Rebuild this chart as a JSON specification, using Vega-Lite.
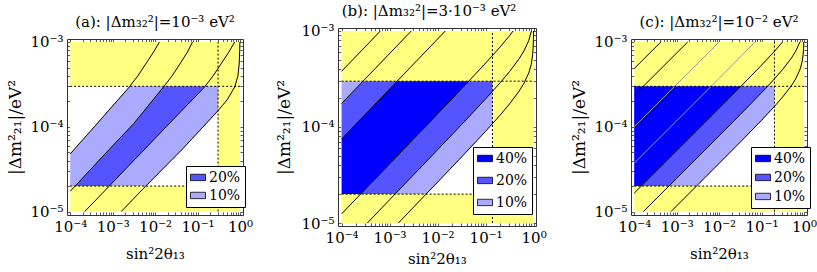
{
  "$schema": "https://vega.github.io/schema/vega-lite/v6.json",
  "background": "white",
  "padding": {"left": 6, "top": 3, "right": 0, "bottom": 0},
  "datasets": {
    "a_bands": [
      {"band": "a_l1", "level": "10%", "x": 0.0001, "y": 0.00002, "y2": 0.00004786},
      {"band": "a_l1", "level": "10%", "x": 0.0001312, "y": 0.00002, "y2": 0.00005585},
      {"band": "a_l1", "level": "10%", "x": 0.000369, "y": 0.00003499, "y2": 0.0001},
      {"band": "a_l1", "level": "10%", "x": 0.000631, "y": 0.00004677, "y2": 0.0001358},
      {"band": "a_l1", "level": "10%", "x": 0.002535, "y": 0.00009772, "y2": 0.0003},
      {"band": "a_l1", "level": "10%", "x": 0.003162, "y": 0.0001096, "y2": 0.0003},
      {"band": "a_l1", "level": "10%", "x": 0.01618, "y": 0.0003, "y2": 0.0003},
      {"band": "a_d", "level": "20%", "x": 0.0001312, "y": 0.00002, "y2": 0.00002},
      {"band": "a_d", "level": "20%", "x": 0.000631, "y": 0.00002, "y2": 0.00004677},
      {"band": "a_d", "level": "20%", "x": 0.0008318, "y": 0.00002, "y2": 0.00005408},
      {"band": "a_d", "level": "20%", "x": 0.002483, "y": 0.0000354, "y2": 0.00009661},
      {"band": "a_d", "level": "20%", "x": 0.003162, "y": 0.00004018, "y2": 0.0001096},
      {"band": "a_d", "level": "20%", "x": 0.01618, "y": 0.00009376, "y2": 0.0003},
      {"band": "a_d", "level": "20%", "x": 0.01995, "y": 0.0001047, "y2": 0.0003},
      {"band": "a_d", "level": "20%", "x": 0.1503, "y": 0.0003, "y2": 0.0003},
      {"band": "a_l2", "level": "10%", "x": 0.0008318, "y": 0.00002, "y2": 0.00002},
      {"band": "a_l2", "level": "10%", "x": 0.002483, "y": 0.00002, "y2": 0.0000354},
      {"band": "a_l2", "level": "10%", "x": 0.006026, "y": 0.00002, "y2": 0.0000561},
      {"band": "a_l2", "level": "10%", "x": 0.01995, "y": 0.00003664, "y2": 0.0001047},
      {"band": "a_l2", "level": "10%", "x": 0.04467, "y": 0.00005495, "y2": 0.0001592},
      {"band": "a_l2", "level": "10%", "x": 0.1503, "y": 0.0001059, "y2": 0.0003},
      {"band": "a_l2", "level": "10%", "x": 0.3041, "y": 0.0001549, "y2": 0.0003}
    ],
    "a_lines": [
      {"id": "a1", "tone": "#000000", "x": 0.0001, "y": 0.00004786},
      {"id": "a1", "tone": "#000000", "x": 0.000369, "y": 0.0001},
      {"id": "a1", "tone": "#000000", "x": 0.002483, "y": 0.0002958},
      {"id": "a1", "tone": "#000000", "x": 0.003917, "y": 0.0003981},
      {"id": "a1", "tone": "#000000", "x": 0.00618, "y": 0.0005623},
      {"id": "a1", "tone": "#000000", "x": 0.009162, "y": 0.0007586},
      {"id": "a1", "tone": "#000000", "x": 0.01265, "y": 0.001},
      {"id": "a2", "tone": "#000000", "x": 0.0001, "y": 0.00001738},
      {"id": "a2", "tone": "#000000", "x": 0.0001312, "y": 0.00002},
      {"id": "a2", "tone": "#000000", "x": 0.000631, "y": 0.00004677},
      {"id": "a2", "tone": "#000000", "x": 0.003162, "y": 0.0001096},
      {"id": "a2", "tone": "#000000", "x": 0.01585, "y": 0.0002958},
      {"id": "a2", "tone": "#000000", "x": 0.02512, "y": 0.0003981},
      {"id": "a2", "tone": "#000000", "x": 0.03945, "y": 0.0005623},
      {"id": "a2", "tone": "#000000", "x": 0.05754, "y": 0.0007586},
      {"id": "a2", "tone": "#000000", "x": 0.07586, "y": 0.001},
      {"id": "a3", "tone": "#000000", "x": 0.0002188, "y": 0.00001},
      {"id": "a3", "tone": "#000000", "x": 0.0008318, "y": 0.00002},
      {"id": "a3", "tone": "#000000", "x": 0.002483, "y": 0.0000354},
      {"id": "a3", "tone": "#000000", "x": 0.01995, "y": 0.0001047},
      {"id": "a3", "tone": "#000000", "x": 0.1472, "y": 0.0002958},
      {"id": "a3", "tone": "#000000", "x": 0.2323, "y": 0.0003981},
      {"id": "a3", "tone": "#000000", "x": 0.3664, "y": 0.0005623},
      {"id": "a3", "tone": "#000000", "x": 0.5433, "y": 0.0007586},
      {"id": "a3", "tone": "#000000", "x": 0.7499, "y": 0.001},
      {"id": "a4", "tone": "#000000", "x": 0.001585, "y": 0.00001},
      {"id": "a4", "tone": "#000000", "x": 0.006026, "y": 0.00002},
      {"id": "a4", "tone": "#000000", "x": 0.04467, "y": 0.00005495},
      {"id": "a4", "tone": "#000000", "x": 0.3041, "y": 0.0001549},
      {"id": "a4", "tone": "#000000", "x": 0.5012, "y": 0.0002089},
      {"id": "a4", "tone": "#000000", "x": 0.7534, "y": 0.0002958},
      {"id": "a4", "tone": "#000000", "x": 0.8913, "y": 0.0003981},
      {"id": "a4", "tone": "#000000", "x": 0.955, "y": 0.0005495},
      {"id": "a4", "tone": "#000000", "x": 0.984, "y": 0.0007943},
      {"id": "a4", "tone": "#000000", "x": 0.9954, "y": 0.001}
    ],
    "a_dash": [
      {"x": 0.0001, "x2": 1, "y": 0.0003, "y2": 0.0003},
      {"x": 0.0001, "x2": 1, "y": 0.00002, "y2": 0.00002},
      {"x": 0.3041, "x2": 0.3041, "y": 0.00001, "y2": 0.001}
    ],
    "b_bands": [
      {"band": "b1", "level": "10%", "x": 0.0001, "y": 0.0001758, "y2": 0.0003},
      {"band": "b1", "level": "10%", "x": 0.0002793, "y": 0.0003, "y2": 0.0003},
      {"band": "b2", "level": "20%", "x": 0.0001, "y": 0.000075, "y2": 0.0001758},
      {"band": "b2", "level": "20%", "x": 0.0002793, "y": 0.0001279, "y2": 0.0003},
      {"band": "b2", "level": "20%", "x": 0.001439, "y": 0.0003, "y2": 0.0003},
      {"band": "b3", "level": "40%", "x": 0.0001, "y": 0.00002, "y2": 0.000075},
      {"band": "b3", "level": "40%", "x": 0.0002489, "y": 0.00002, "y2": 0.0001205},
      {"band": "b3", "level": "40%", "x": 0.001439, "y": 0.00004977, "y2": 0.0003},
      {"band": "b3", "level": "40%", "x": 0.01, "y": 0.0001368, "y2": 0.0003},
      {"band": "b3", "level": "40%", "x": 0.03162, "y": 0.00025, "y2": 0.0003},
      {"band": "b3", "level": "40%", "x": 0.04446, "y": 0.0003, "y2": 0.0003},
      {"band": "b4", "level": "20%", "x": 0.0002489, "y": 0.00002, "y2": 0.00002},
      {"band": "b4", "level": "20%", "x": 0.001297, "y": 0.00002, "y2": 0.00004721},
      {"band": "b4", "level": "20%", "x": 0.01, "y": 0.00005794, "y2": 0.0001368},
      {"band": "b4", "level": "20%", "x": 0.03162, "y": 0.0001059, "y2": 0.00025},
      {"band": "b4", "level": "20%", "x": 0.04446, "y": 0.0001271, "y2": 0.0003},
      {"band": "b4", "level": "20%", "x": 0.1, "y": 0.0001959, "y2": 0.0003},
      {"band": "b4", "level": "20%", "x": 0.1387, "y": 0.0002344, "y2": 0.0003},
      {"band": "b5", "level": "10%", "x": 0.001297, "y": 0.00002, "y2": 0.00002},
      {"band": "b5", "level": "10%", "x": 0.005781, "y": 0.00002, "y2": 0.00004345},
      {"band": "b5", "level": "10%", "x": 0.01, "y": 0.00002667, "y2": 0.00005794},
      {"band": "b5", "level": "10%", "x": 0.03162, "y": 0.00004875, "y2": 0.0001059},
      {"band": "b5", "level": "10%", "x": 0.1, "y": 0.00009016, "y2": 0.0001959},
      {"band": "b5", "level": "10%", "x": 0.1387, "y": 0.0001079, "y2": 0.0002344}
    ],
    "b_lines": [
      {"id": "L1", "tone": "#000000", "x": 0.0001, "y": 0.0003802},
      {"id": "L1", "tone": "#000000", "x": 0.0006427, "y": 0.001},
      {"id": "L2", "tone": "#000000", "x": 0.0001, "y": 0.0001758},
      {"id": "L2", "tone": "#000000", "x": 0.002831, "y": 0.001},
      {"id": "L3", "tone": "#000000", "x": 0.0001, "y": 0.000075},
      {"id": "L3", "tone": "#000000", "x": 0.01, "y": 0.0008241},
      {"id": "L3", "tone": "#000000", "x": 0.01445, "y": 0.001},
      {"id": "L4", "tone": "#000000", "x": 0.0001, "y": 0.00001245},
      {"id": "L4", "tone": "#000000", "x": 0.001, "y": 0.00004121},
      {"id": "L4", "tone": "#000000", "x": 0.01, "y": 0.0001368},
      {"id": "L4", "tone": "#000000", "x": 0.03162, "y": 0.00025},
      {"id": "L4", "tone": "#000000", "x": 0.1, "y": 0.0004624},
      {"id": "L4", "tone": "#000000", "x": 0.1995, "y": 0.0006792},
      {"id": "L4", "tone": "#000000", "x": 0.3162, "y": 0.0008933},
      {"id": "L4", "tone": "#000000", "x": 0.3741, "y": 0.001},
      {"id": "L5", "tone": "#000000", "x": 0.0003428, "y": 0.00001},
      {"id": "L5", "tone": "#000000", "x": 0.001, "y": 0.00001746},
      {"id": "L5", "tone": "#000000", "x": 0.01, "y": 0.00005794},
      {"id": "L5", "tone": "#000000", "x": 0.03162, "y": 0.0001059},
      {"id": "L5", "tone": "#000000", "x": 0.1, "y": 0.0001959},
      {"id": "L5", "tone": "#000000", "x": 0.1995, "y": 0.0002877},
      {"id": "L5", "tone": "#000000", "x": 0.3162, "y": 0.0003784},
      {"id": "L5", "tone": "#000000", "x": 0.5012, "y": 0.0005152},
      {"id": "L5", "tone": "#000000", "x": 0.631, "y": 0.0006209},
      {"id": "L5", "tone": "#000000", "x": 0.7943, "y": 0.0007962},
      {"id": "L5", "tone": "#000000", "x": 0.8995, "y": 0.001},
      {"id": "L6", "tone": "#000000", "x": 0.001524, "y": 0.00001},
      {"id": "L6", "tone": "#000000", "x": 0.01, "y": 0.00002667},
      {"id": "L6", "tone": "#000000", "x": 0.03162, "y": 0.00004875},
      {"id": "L6", "tone": "#000000", "x": 0.1, "y": 0.00009016},
      {"id": "L6", "tone": "#000000", "x": 0.1995, "y": 0.0001324},
      {"id": "L6", "tone": "#000000", "x": 0.3162, "y": 0.0001742},
      {"id": "L6", "tone": "#000000", "x": 0.5012, "y": 0.0002371},
      {"id": "L6", "tone": "#000000", "x": 0.631, "y": 0.0002858},
      {"id": "L6", "tone": "#000000", "x": 0.7943, "y": 0.0003664},
      {"id": "L6", "tone": "#000000", "x": 0.8913, "y": 0.0004477},
      {"id": "L6", "tone": "#000000", "x": 0.955, "y": 0.0005636},
      {"id": "L6", "tone": "#000000", "x": 0.9772, "y": 0.0006607},
      {"id": "L6", "tone": "#000000", "x": 0.9908, "y": 0.0008166},
      {"id": "L6", "tone": "#000000", "x": 0.99655, "y": 0.001}
    ],
    "b_dash": [
      {"x": 0.0001, "x2": 1, "y": 0.0003, "y2": 0.0003},
      {"x": 0.0001, "x2": 1, "y": 0.00002, "y2": 0.00002},
      {"x": 0.1387, "x2": 0.1387, "y": 0.00001, "y2": 0.001}
    ],
    "c_bands": [
      {"band": "cd", "level": "40%", "x": 0.0001, "y": 0.00002, "y2": 0.0003},
      {"band": "cd", "level": "40%", "x": 0.0001472, "y": 0.00002, "y2": 0.0003},
      {"band": "cd", "level": "40%", "x": 0.001, "y": 0.00005212, "y2": 0.0003},
      {"band": "cd", "level": "40%", "x": 0.01, "y": 0.0001652, "y2": 0.0003},
      {"band": "cd", "level": "40%", "x": 0.03162, "y": 0.0002951, "y2": 0.0003},
      {"band": "cd", "level": "40%", "x": 0.03266, "y": 0.0003, "y2": 0.0003},
      {"band": "cm", "level": "20%", "x": 0.0001472, "y": 0.00002, "y2": 0.00002},
      {"band": "cm", "level": "20%", "x": 0.0006577, "y": 0.00002, "y2": 0.00004227},
      {"band": "cm", "level": "20%", "x": 0.001, "y": 0.00002466, "y2": 0.00005212},
      {"band": "cm", "level": "20%", "x": 0.01, "y": 0.00007816, "y2": 0.0001652},
      {"band": "cm", "level": "20%", "x": 0.03162, "y": 0.0001396, "y2": 0.0002951},
      {"band": "cm", "level": "20%", "x": 0.03266, "y": 0.0001419, "y2": 0.0003},
      {"band": "cm", "level": "20%", "x": 0.1, "y": 0.0002523, "y2": 0.0003},
      {"band": "cm", "level": "20%", "x": 0.138, "y": 0.0003, "y2": 0.0003},
      {"band": "cl", "level": "10%", "x": 0.0006577, "y": 0.00002, "y2": 0.00002},
      {"band": "cl", "level": "10%", "x": 0.002938, "y": 0.00002, "y2": 0.00004227},
      {"band": "cl", "level": "10%", "x": 0.01, "y": 0.00003698, "y2": 0.00007816},
      {"band": "cl", "level": "10%", "x": 0.03162, "y": 0.00006607, "y2": 0.0001396},
      {"band": "cl", "level": "10%", "x": 0.1, "y": 0.0001194, "y2": 0.0002523},
      {"band": "cl", "level": "10%", "x": 0.138, "y": 0.0001419, "y2": 0.0003},
      {"band": "cl", "level": "10%", "x": 0.2009, "y": 0.0001736, "y2": 0.0003}
    ],
    "c_lines": [
      {"id": "c1", "tone": "#000000", "x": 0.0001, "y": 0.0004853},
      {"id": "c1", "tone": "#000000", "x": 0.0004246, "y": 0.001},
      {"id": "c2", "tone": "#000000", "x": 0.0001, "y": 0.0002344},
      {"id": "c2", "tone": "#000000", "x": 0.00182, "y": 0.001},
      {"id": "g1", "tone": "#999999", "x": 0.0001, "y": 0.0001},
      {"id": "g1", "tone": "#999999", "x": 0.01, "y": 0.001},
      {"id": "g2", "tone": "#999999", "x": 0.0001, "y": 0.00003715},
      {"id": "g2", "tone": "#999999", "x": 0.001, "y": 0.0001175},
      {"id": "g2", "tone": "#999999", "x": 0.01, "y": 0.0003724},
      {"id": "g2", "tone": "#999999", "x": 0.03162, "y": 0.0006653},
      {"id": "g2", "tone": "#999999", "x": 0.06982, "y": 0.001},
      {"id": "c3", "tone": "#000000", "x": 0.0001, "y": 0.00001648},
      {"id": "c3", "tone": "#000000", "x": 0.001, "y": 0.00005212},
      {"id": "c3", "tone": "#000000", "x": 0.01, "y": 0.0001652},
      {"id": "c3", "tone": "#000000", "x": 0.03162, "y": 0.0002951},
      {"id": "c3", "tone": "#000000", "x": 0.1, "y": 0.0005333},
      {"id": "c3", "tone": "#000000", "x": 0.1995, "y": 0.0007727},
      {"id": "c3", "tone": "#000000", "x": 0.3126, "y": 0.001},
      {"id": "c4", "tone": "#000000", "x": 0.0001644, "y": 0.00001},
      {"id": "c4", "tone": "#000000", "x": 0.001, "y": 0.00002466},
      {"id": "c4", "tone": "#000000", "x": 0.01, "y": 0.00007816},
      {"id": "c4", "tone": "#000000", "x": 0.03162, "y": 0.0001396},
      {"id": "c4", "tone": "#000000", "x": 0.1, "y": 0.0002523},
      {"id": "c4", "tone": "#000000", "x": 0.1995, "y": 0.0003656},
      {"id": "c4", "tone": "#000000", "x": 0.3162, "y": 0.0004764},
      {"id": "c4", "tone": "#000000", "x": 0.5012, "y": 0.0006427},
      {"id": "c4", "tone": "#000000", "x": 0.631, "y": 0.0007709},
      {"id": "c4", "tone": "#000000", "x": 0.8017, "y": 0.001},
      {"id": "c5", "tone": "#000000", "x": 0.0007345, "y": 0.00001},
      {"id": "c5", "tone": "#000000", "x": 0.001, "y": 0.00001167},
      {"id": "c5", "tone": "#000000", "x": 0.01, "y": 0.00003698},
      {"id": "c5", "tone": "#000000", "x": 0.03162, "y": 0.00006607},
      {"id": "c5", "tone": "#000000", "x": 0.1, "y": 0.0001194},
      {"id": "c5", "tone": "#000000", "x": 0.1995, "y": 0.000173},
      {"id": "c5", "tone": "#000000", "x": 0.3162, "y": 0.0002254},
      {"id": "c5", "tone": "#000000", "x": 0.5012, "y": 0.0003041},
      {"id": "c5", "tone": "#000000", "x": 0.631, "y": 0.0003648},
      {"id": "c5", "tone": "#000000", "x": 0.7943, "y": 0.0004656},
      {"id": "c5", "tone": "#000000", "x": 0.8913, "y": 0.0005675},
      {"id": "c5", "tone": "#000000", "x": 0.955, "y": 0.0007129},
      {"id": "c5", "tone": "#000000", "x": 0.9772, "y": 0.0008356},
      {"id": "c5", "tone": "#000000", "x": 0.98969, "y": 0.001}
    ],
    "c_dash": [
      {"x": 0.0001, "x2": 1, "y": 0.0003, "y2": 0.0003},
      {"x": 0.0001, "x2": 1, "y": 0.00002, "y2": 0.00002},
      {"x": 0.2009, "x2": 0.2009, "y": 0.00001, "y2": 0.001}
    ]
  },
  "hconcat": [
    {
      "width": 176, "height": 176,
      "title": {"text": "(a): |Δm₃₂²|=10⁻³ eV²"},
      "layer": [
        {"data": {"values": [{"x": 0.0001, "x2": 1, "y": 0.00001, "y2": 0.001}]},
         "mark": {"type": "rect", "color": "#FFFF80"},
         "encoding": {
           "x": {"field": "x", "type": "quantitative", "scale": {"type": "log", "domain": [0.0000841, 1.175], "nice": false},
                 "axis": {"orient": "bottom", "values": [0.0001,0.0002,0.0003,0.0004,0.0005,0.0006,0.0007,0.0008,0.0009,0.001,0.002,0.003,0.004,0.005,0.006,0.007,0.008,0.009,0.01,0.02,0.03,0.04,0.05,0.06,0.07,0.08,0.09,0.1,0.2,0.3,0.4,0.5,0.6,0.7,0.8,0.9,1],
                          "labelExpr": "datum.value == 0.0001 ? '10⁻⁴' : datum.value == 0.001 ? '10⁻³' : datum.value == 0.01 ? '10⁻²' : datum.value == 0.1 ? '10⁻¹' : datum.value == 1 ? '10⁰' : ''",
                          "title": "sin²2θ₁₃", "titleFontSize": 15, "titlePadding": 12}},
           "x2": {"field": "x2"},
           "y": {"field": "y", "type": "quantitative", "scale": {"type": "log", "domain": [0.00000912, 0.001084], "nice": false},
                 "axis": {"orient": "left", "values": [0.00001,0.00002,0.00003,0.00004,0.00005,0.00006,0.00007,0.00008,0.00009,0.0001,0.0002,0.0003,0.0004,0.0005,0.0006,0.0007,0.0008,0.0009,0.001],
                          "labelExpr": "datum.value == 0.00001 ? '10⁻⁵' : datum.value == 0.0001 ? '10⁻⁴' : datum.value == 0.001 ? '10⁻³' : ''",
                          "title": "|Δm²₂₁|/eV²", "titleFontSize": 17, "titlePadding": 5}},
           "y2": {"field": "y2"}
         }},
        {"data": {"values": [{"x": 0.0001, "x2": 0.3041, "y": 0.00002, "y2": 0.0003}]},
         "mark": {"type": "rect", "color": "#FFFFFF"},
         "encoding": {
           "x": {"field": "x", "type": "quantitative", "axis": {"orient": "top", "values": [0.0001,0.0002,0.0003,0.0004,0.0005,0.0006,0.0007,0.0008,0.0009,0.001,0.002,0.003,0.004,0.005,0.006,0.007,0.008,0.009,0.01,0.02,0.03,0.04,0.05,0.06,0.07,0.08,0.09,0.1,0.2,0.3,0.4,0.5,0.6,0.7,0.8,0.9,1], "labels": false, "title": null}},
           "x2": {"field": "x2"},
           "y": {"field": "y", "type": "quantitative", "axis": {"orient": "right", "values": [0.00001,0.00002,0.00003,0.00004,0.00005,0.00006,0.00007,0.00008,0.00009,0.0001,0.0002,0.0003,0.0004,0.0005,0.0006,0.0007,0.0008,0.0009,0.001], "labels": false, "title": null}},
           "y2": {"field": "y2"}
         }},
        {"data": {"name": "a_bands"},
         "mark": {"type": "area", "opacity": 1},
         "encoding": {
           "x": {"field": "x", "type": "quantitative", "axis": null},
           "y": {"field": "y", "type": "quantitative", "axis": null},
           "y2": {"field": "y2"},
           "detail": {"field": "band"},
           "color": {"field": "level", "type": "nominal", "scale": {"domain": ["20%", "10%"], "range": ["#5555FF", "#AAAAFF"]},
                     "legend": {"title": null, "orient": "none", "legendX": 119, "legendY": 127, "rowPadding": 3}}
         }},
        {"data": {"name": "a_lines"},
         "mark": {"type": "line", "strokeWidth": 1},
         "encoding": {
           "x": {"field": "x", "type": "quantitative", "axis": null},
           "y": {"field": "y", "type": "quantitative", "axis": null},
           "detail": {"field": "id"},
           "stroke": {"field": "tone", "type": "nominal", "scale": null}
         }},
        {"data": {"name": "a_dash"},
         "mark": {"type": "rule", "strokeDash": [2, 2], "strokeWidth": 1, "color": "#000000"},
         "encoding": {
           "x": {"field": "x", "type": "quantitative", "axis": null},
           "x2": {"field": "x2"},
           "y": {"field": "y", "type": "quantitative", "axis": null},
           "y2": {"field": "y2"}
         }}
      ],
      "resolve": {"axis": {"x": "independent", "y": "independent"}}
    },
    {
      "width": 198, "height": 198,
      "title": {"text": "(b): |Δm₃₂²|=3·10⁻³ eV²", "dx": -8},
      "layer": [
        {"data": {"values": [{"x": 0.0001, "x2": 1, "y": 0.00001, "y2": 0.001}]},
         "mark": {"type": "rect", "color": "#FFFF80"},
         "encoding": {
           "x": {"field": "x", "type": "quantitative", "scale": {"type": "log", "domain": [0.0000841, 1.122], "nice": false},
                 "axis": {"orient": "bottom", "values": [0.0001,0.0002,0.0003,0.0004,0.0005,0.0006,0.0007,0.0008,0.0009,0.001,0.002,0.003,0.004,0.005,0.006,0.007,0.008,0.009,0.01,0.02,0.03,0.04,0.05,0.06,0.07,0.08,0.09,0.1,0.2,0.3,0.4,0.5,0.6,0.7,0.8,0.9,1],
                          "labelExpr": "datum.value == 0.0001 ? '10⁻⁴' : datum.value == 0.001 ? '10⁻³' : datum.value == 0.01 ? '10⁻²' : datum.value == 0.1 ? '10⁻¹' : datum.value == 1 ? '10⁰' : ''",
                          "title": "sin²2θ₁₃", "titleFontSize": 15, "titlePadding": 6}},
           "x2": {"field": "x2"},
           "y": {"field": "y", "type": "quantitative", "scale": {"type": "log", "domain": [0.00000931, 0.001074], "nice": false},
                 "axis": {"orient": "left", "values": [0.00001,0.00002,0.00003,0.00004,0.00005,0.00006,0.00007,0.00008,0.00009,0.0001,0.0002,0.0003,0.0004,0.0005,0.0006,0.0007,0.0008,0.0009,0.001],
                          "labelExpr": "datum.value == 0.00001 ? '10⁻⁵' : datum.value == 0.0001 ? '10⁻⁴' : datum.value == 0.001 ? '10⁻³' : ''",
                          "title": "|Δm²₂₁|/eV²", "titleFontSize": 17, "titlePadding": 7}},
           "y2": {"field": "y2"}
         }},
        {"data": {"values": [{"x": 0.0001, "x2": 0.1387, "y": 0.00002, "y2": 0.0003}]},
         "mark": {"type": "rect", "color": "#FFFFFF"},
         "encoding": {
           "x": {"field": "x", "type": "quantitative", "axis": {"orient": "top", "values": [0.0001,0.0002,0.0003,0.0004,0.0005,0.0006,0.0007,0.0008,0.0009,0.001,0.002,0.003,0.004,0.005,0.006,0.007,0.008,0.009,0.01,0.02,0.03,0.04,0.05,0.06,0.07,0.08,0.09,0.1,0.2,0.3,0.4,0.5,0.6,0.7,0.8,0.9,1], "labels": false, "title": null}},
           "x2": {"field": "x2"},
           "y": {"field": "y", "type": "quantitative", "axis": {"orient": "right", "values": [0.00001,0.00002,0.00003,0.00004,0.00005,0.00006,0.00007,0.00008,0.00009,0.0001,0.0002,0.0003,0.0004,0.0005,0.0006,0.0007,0.0008,0.0009,0.001], "labels": false, "title": null}},
           "y2": {"field": "y2"}
         }},
        {"data": {"name": "b_bands"},
         "mark": {"type": "area", "opacity": 1},
         "encoding": {
           "x": {"field": "x", "type": "quantitative", "axis": null},
           "y": {"field": "y", "type": "quantitative", "axis": null},
           "y2": {"field": "y2"},
           "detail": {"field": "band"},
           "color": {"field": "level", "type": "nominal", "scale": {"domain": ["40%", "20%", "10%"], "range": ["#0000FF", "#5555FF", "#AAAAFF"]},
                     "legend": {"title": null, "orient": "none", "legendX": 135, "legendY": 119, "rowPadding": 7}}
         }},
        {"data": {"name": "b_lines"},
         "mark": {"type": "line", "strokeWidth": 1},
         "encoding": {
           "x": {"field": "x", "type": "quantitative", "axis": null},
           "y": {"field": "y", "type": "quantitative", "axis": null},
           "detail": {"field": "id"},
           "stroke": {"field": "tone", "type": "nominal", "scale": null}
         }},
        {"data": {"name": "b_dash"},
         "mark": {"type": "rule", "strokeDash": [2, 2], "strokeWidth": 1, "color": "#000000"},
         "encoding": {
           "x": {"field": "x", "type": "quantitative", "axis": null},
           "x2": {"field": "x2"},
           "y": {"field": "y", "type": "quantitative", "axis": null},
           "y2": {"field": "y2"}
         }}
      ],
      "resolve": {"axis": {"x": "independent", "y": "independent"}}
    },
    {
      "width": 176, "height": 176,
      "title": {"text": "(c): |Δm₃₂²|=10⁻² eV²"},
      "layer": [
        {"data": {"values": [{"x": 0.0001, "x2": 1, "y": 0.00001, "y2": 0.001}]},
         "mark": {"type": "rect", "color": "#FFFF80"},
         "encoding": {
           "x": {"field": "x", "type": "quantitative", "scale": {"type": "log", "domain": [0.0000841, 1.175], "nice": false},
                 "axis": {"orient": "bottom", "values": [0.0001,0.0002,0.0003,0.0004,0.0005,0.0006,0.0007,0.0008,0.0009,0.001,0.002,0.003,0.004,0.005,0.006,0.007,0.008,0.009,0.01,0.02,0.03,0.04,0.05,0.06,0.07,0.08,0.09,0.1,0.2,0.3,0.4,0.5,0.6,0.7,0.8,0.9,1],
                          "labelExpr": "datum.value == 0.0001 ? '10⁻⁴' : datum.value == 0.001 ? '10⁻³' : datum.value == 0.01 ? '10⁻²' : datum.value == 0.1 ? '10⁻¹' : datum.value == 1 ? '10⁰' : ''",
                          "title": "sin²2θ₁₃", "titleFontSize": 15, "titlePadding": 12}},
           "x2": {"field": "x2"},
           "y": {"field": "y", "type": "quantitative", "scale": {"type": "log", "domain": [0.00000912, 0.001084], "nice": false},
                 "axis": {"orient": "left", "values": [0.00001,0.00002,0.00003,0.00004,0.00005,0.00006,0.00007,0.00008,0.00009,0.0001,0.0002,0.0003,0.0004,0.0005,0.0006,0.0007,0.0008,0.0009,0.001],
                          "labelExpr": "datum.value == 0.00001 ? '10⁻⁵' : datum.value == 0.0001 ? '10⁻⁴' : datum.value == 0.001 ? '10⁻³' : ''",
                          "title": "|Δm²₂₁|/eV²", "titleFontSize": 17, "titlePadding": 5}},
           "y2": {"field": "y2"}
         }},
        {"data": {"values": [{"x": 0.0001, "x2": 0.2009, "y": 0.00002, "y2": 0.0003}]},
         "mark": {"type": "rect", "color": "#FFFFFF"},
         "encoding": {
           "x": {"field": "x", "type": "quantitative", "axis": {"orient": "top", "values": [0.0001,0.0002,0.0003,0.0004,0.0005,0.0006,0.0007,0.0008,0.0009,0.001,0.002,0.003,0.004,0.005,0.006,0.007,0.008,0.009,0.01,0.02,0.03,0.04,0.05,0.06,0.07,0.08,0.09,0.1,0.2,0.3,0.4,0.5,0.6,0.7,0.8,0.9,1], "labels": false, "title": null}},
           "x2": {"field": "x2"},
           "y": {"field": "y", "type": "quantitative", "axis": {"orient": "right", "values": [0.00001,0.00002,0.00003,0.00004,0.00005,0.00006,0.00007,0.00008,0.00009,0.0001,0.0002,0.0003,0.0004,0.0005,0.0006,0.0007,0.0008,0.0009,0.001], "labels": false, "title": null}},
           "y2": {"field": "y2"}
         }},
        {"data": {"name": "c_bands"},
         "mark": {"type": "area", "opacity": 1},
         "encoding": {
           "x": {"field": "x", "type": "quantitative", "axis": null},
           "y": {"field": "y", "type": "quantitative", "axis": null},
           "y2": {"field": "y2"},
           "detail": {"field": "band"},
           "color": {"field": "level", "type": "nominal", "scale": {"domain": ["40%", "20%", "10%"], "range": ["#0000FF", "#5555FF", "#AAAAFF"]},
                     "legend": {"title": null, "orient": "none", "legendX": 120, "legendY": 108, "rowPadding": 4}}
         }},
        {"data": {"name": "c_lines"},
         "mark": {"type": "line", "strokeWidth": 1},
         "encoding": {
           "x": {"field": "x", "type": "quantitative", "axis": null},
           "y": {"field": "y", "type": "quantitative", "axis": null},
           "detail": {"field": "id"},
           "stroke": {"field": "tone", "type": "nominal", "scale": null}
         }},
        {"data": {"name": "c_dash"},
         "mark": {"type": "rule", "strokeDash": [2, 2], "strokeWidth": 1, "color": "#000000"},
         "encoding": {
           "x": {"field": "x", "type": "quantitative", "axis": null},
           "x2": {"field": "x2"},
           "y": {"field": "y", "type": "quantitative", "axis": null},
           "y2": {"field": "y2"}
         }}
      ],
      "resolve": {"axis": {"x": "independent", "y": "independent"}}
    }
  ],
  "spacing": 95,
  "bounds": "flush",
  "center": true,
  "resolve": {"scale": {"color": "independent", "x": "independent", "y": "independent"}, "legend": {"color": "independent"}},
  "config": {
    "view": {"stroke": "#333333", "strokeWidth": 1},
    "font": "DejaVu Serif",
    "axis": {
      "grid": false, "domain": false,
      "tickColor": "#333333", "tickSize": -3, "tickWidth": 0.8,
      "labelFont": "DejaVu Serif", "labelFontSize": 15, "labelColor": "#000000",
      "labelPadding": 7, "labelFlush": false, "labelOverlap": false,
      "titleFont": "DejaVu Serif", "titleFontSize": 16, "titleFontWeight": "normal", "titleColor": "#000000"
    },
    "title": {"font": "DejaVu Serif", "fontSize": 15, "fontWeight": "normal", "color": "#000000", "anchor": "middle", "offset": 5},
    "legend": {
      "labelFont": "DejaVu Serif", "labelFontSize": 14, "labelColor": "#000000",
      "fillColor": "#FFFFFF", "strokeColor": "#000000", "padding": 4,
      "symbolType": "M-1,-0.5H1V0.35H-1Z", "symbolSize": 225, "symbolStrokeColor": "#000000", "symbolStrokeWidth": 0.8,
      "labelOffset": 3
    }
  }
}
